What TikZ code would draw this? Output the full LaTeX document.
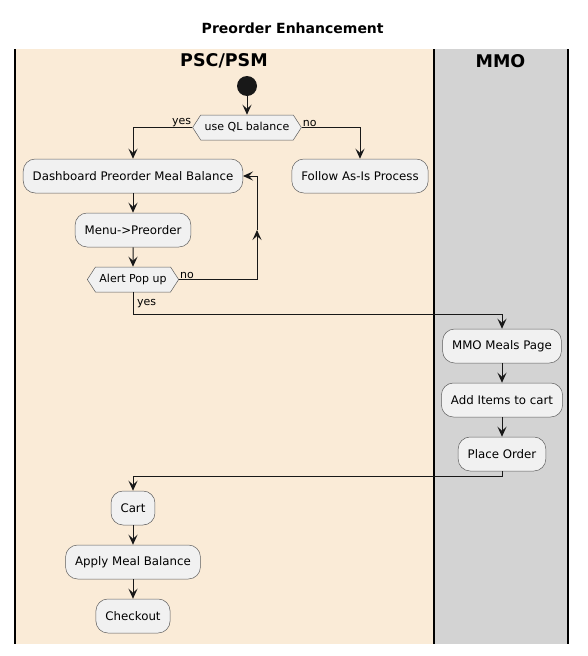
\documentclass[tikz,border=0pt]{standalone}
\usepackage{fontspec}
\setmainfont{DejaVu Sans}
\usetikzlibrary{shapes.symbols,arrows.meta}
\definecolor{lanea}{HTML}{FAEBD7}
\definecolor{laneb}{HTML}{D3D3D3}
\definecolor{boxfill}{HTML}{F1F1F1}
\definecolor{ink}{HTML}{181818}
\begin{document}
\begin{tikzpicture}[x=1pt,y=-1pt,
  act/.style={draw=ink!70, line width=0.5pt, fill=boxfill, rounded corners=12pt,
    minimum height=34pt, inner xsep=9.5pt, inner ysep=0pt, font=\fontsize{11.8}{13}\selectfont},
  dec/.style={signal, signal to=west and east, signal pointer angle=114, draw=ink!70, line width=0.5pt, fill=boxfill,
    minimum height=25pt, inner xsep=4pt, inner ysep=0pt, font=\fontsize{11}{12}\selectfont},
  flow/.style={draw=ink, line width=1pt, -{Stealth[length=10pt,width=9pt,inset=4pt]}},
  lbl/.style={font=\fontsize{11}{12}\selectfont, inner sep=1pt},
  lanetitle/.style={font=\fontsize{17.5}{20}\selectfont\bfseries},
  border/.style={draw=black, line width=1.5pt}]
\useasboundingbox (0,0) rectangle (587,656);
% lanes
\fill[lanea] (15,49) rectangle (434,644);
\fill[laneb] (434,49) rectangle (568,644);
\draw[border] (15,49) -- (15,644);
\draw[border] (434,49) -- (434,644);
\draw[border] (568,49) -- (568,644);
\node[font=\fontsize{14}{16}\selectfont\bfseries] (title) at (292.7,28.5) {Preorder Enhancement};
\node[lanetitle] (lane1) at (224,61) {PSC/PSM};
\node[lanetitle] (lane2) at (500.5,61) {MMO};
% nodes
\node[circle, fill=ink, minimum size=20pt, inner sep=0pt] (start) at (247,86) {};
\node[dec] (d1) at (247,127.5) {use QL balance};
\node[act] (dash) at (133,176) {Dashboard Preorder Meal Balance};
\node[act] (follow) at (360,176) {Follow As-Is Process};
\node[act] (menu) at (133,230) {Menu->Preorder};
\node[dec] (alert) at (133,279.5) {Alert Pop up};
\node[act] (mmo1) at (502,346) {MMO Meals Page};
\node[act] (mmo2) at (502,400) {Add Items to cart};
\node[act] (mmo3) at (502,454) {Place Order};
\node[act] (cart) at (133,508) {Cart};
\node[act] (apply) at (133,562) {Apply Meal Balance};
\node[act] (checkout) at (133,616) {Checkout};
% connectors
\coordinate (loopmid) at (257,230);
\coordinate (yesturn) at (133,314);
\coordinate (backturn) at (502,476);
\draw[flow] (start) -- (d1.north);
\draw[flow] (d1.west) -| (dash.north);
\node[lbl, anchor=south east] (yes1) at (d1.west) {yes};
\draw[flow] (d1.east) -| (follow.north);
\node[lbl, anchor=south west] (no1) at (d1.east) {no};
\draw[flow] (dash) -- (menu);
\draw[flow] (menu) -- (alert);
\draw[flow] (alert.east) -| (loopmid);
\draw[flow] (loopmid) |- (dash.east);
\node[lbl, anchor=south west] (no2) at (alert.east) {no};
\draw[flow] (alert.south) -- (yesturn) -| (mmo1.north);
\node[lbl, anchor=west] (yes2) at (136,304) {yes};
\draw[flow] (mmo1) -- (mmo2);
\draw[flow] (mmo2) -- (mmo3);
\draw[flow] (mmo3.south) -- (backturn) -| (cart.north);
\draw[flow] (cart) -- (apply);
\draw[flow] (apply) -- (checkout);
\end{tikzpicture}
\end{document}
